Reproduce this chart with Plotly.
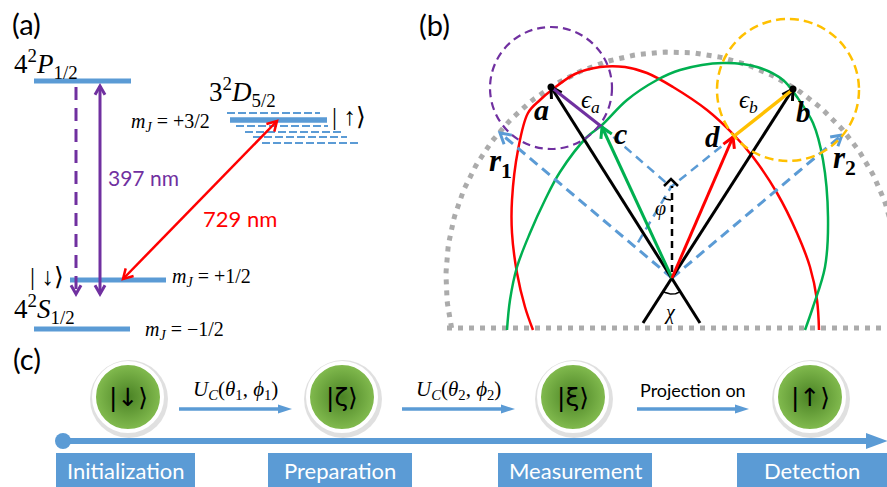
import math
import numpy as np
import plotly.graph_objects as go

W, H = 887, 487
BLUE = "#5B9BD5"
PURPLE = "#7030A0"
RED = "#FF0000"
GREEN = "#00B050"
YELLOW = "#FFC000"
GRAY = "#ABABAB"
MATH = "Liberation Serif"
SANS = "Lato"

# ---------------- Panel (a): energy levels ----------------
level_x0 = [34, 70, 34, 230]
level_x1 = [131, 166, 130, 327]
level_y = [81, 280, 329, 120]
sub_x0 = [227, 236, 245, 253, 262]
sub_x1 = [320, 328, 342, 347, 358]
sub_y = [113, 126, 132, 137, 143]

# transitions: (x0, y0, x1, y1)
decay_397 = (76, 87, 76, 294)
drive_397 = (100, 86, 100, 294)
drive_729 = (123, 279, 277, 121)

a_label_text = ["4<sup>2</sup><i>P</i><sub>1/2</sub>", "3<sup>2</sup><i>D</i><sub>5/2</sub>",
                "<i>m</i><sub><i>J</i></sub> = +3/2", "| ↑⟩", "| ↓⟩",
                "<i>m</i><sub><i>J</i></sub> = +1/2", "4<sup>2</sup><i>S</i><sub>1/2</sub>",
                "<i>m</i><sub><i>J</i></sub> = −1/2"]
a_label_x = [12, 207, 129, 330, 28, 170, 12, 143]
a_label_y = [64, 92, 122, 116, 276, 277, 309, 330]
a_label_size = [27, 27, 20, 25, 25, 20, 27, 20]

# ---------------- Panel (b): geometry ----------------
origin = (672, 278)
gray_r = 226
base_y = 328
pt_a = (551, 87)
pt_b = (793, 89)
pt_c = (602, 127)
pt_d = (733, 137)
pt_r1 = (500, 133)
pt_r2 = (842, 135)
pt_p = (671, 187)
pt_q = (637, 244)
line_a_end = (700, 323)
line_b_end = (643, 323)
circ_a = (551, 88, 61)
circ_b = (788, 90, 71)

red_x = [533, 525, 517, 512, 512, 518, 528, 540, 553, 575, 600, 625, 647, 673, 707, 733, 753, 777, 797, 810, 817, 819]
red_y = [330, 307, 273, 233, 200, 150, 113, 100, 89, 74, 67, 67, 73, 87, 110, 134, 157, 193, 233, 267, 300, 330]
green_x = [507, 510, 517, 530, 545, 560, 587, 602, 627, 657, 680, 723, 757, 783, 797, 813, 823, 828, 825, 813, 805]
green_y = [330, 300, 267, 233, 200, 172, 137, 125, 100, 80, 70, 63, 67, 80, 97, 123, 160, 217, 267, 307, 330]

# ---------------- Panel (c): timeline ----------------
state_x = [128, 342, 573, 810]
state_y = 397
state_text = ["|↓⟩", "|ζ⟩", "|ξ⟩", "|↑⟩"]
step_x0 = [179, 402, 637]
step_x1 = [292, 515, 749]
step_y = 409
step_text = ["<i>U</i><sub><i>C</i></sub>(<i>θ</i><sub>1</sub>, <i>ϕ</i><sub>1</sub>)",
             "<i>U</i><sub><i>C</i></sub>(<i>θ</i><sub>2</sub>, <i>ϕ</i><sub>2</sub>)",
             "Projection on"]
box_x0 = [56, 268, 498, 737]
box_x1 = [195, 412, 652, 889]
box_text = ["Initialization", "Preparation", "Measurement", "Detection"]
timeline = (63, 869, 441)

fig = go.Figure()


def line(xs, ys, color, width, dash=None, shape="linear"):
    fig.add_trace(go.Scatter(x=list(xs), y=list(ys), mode="lines",
                             line=dict(color=color, width=width, dash=dash, shape=shape),
                             hoverinfo="skip", showlegend=False))


def head(tail, tip, color, width, L=11, ang=30):
    dx, dy = tip[0] - tail[0], tip[1] - tail[1]
    n = math.hypot(dx, dy)
    ux, uy = -dx / n, -dy / n
    pts = []
    for s in (1, -1):
        a = math.radians(ang * s)
        rx = ux * math.cos(a) - uy * math.sin(a)
        ry = ux * math.sin(a) + uy * math.cos(a)
        pts.append((tip[0] + L * rx, tip[1] + L * ry))
    line([pts[0][0], tip[0], pts[1][0]], [pts[0][1], tip[1], pts[1][1]], color, width)


def arrow(p0, p1, color, width, dash=None, start=False, end=True, L=11):
    line([p0[0], p1[0]], [p0[1], p1[1]], color, width, dash)
    if end:
        head(p0, p1, color, width, L)
    if start:
        head(p1, p0, color, width, L)


def text(x, y, s, size, color="black", family=MATH, xanchor="center"):
    fig.add_annotation(x=x, y=y, text=s, showarrow=False, xref="x", yref="y",
                       xanchor=xanchor, yanchor="middle",
                       font=dict(size=size, color=color, family=family))


# ----- panel (a) -----
for x0, x1, y in zip(level_x0, level_x1, level_y):
    line([x0, x1], [y, y], BLUE, 5)
for x0, x1, y in zip(sub_x0, sub_x1, sub_y):
    line([x0, x1], [y, y], BLUE, 2.2, dash="8px,3px")
line([level_x0[3], level_x1[3]], [level_y[3], level_y[3]], BLUE, 5)

arrow(decay_397[:2], decay_397[2:], PURPLE, 3, dash="13px,8px", L=10)
arrow(drive_397[:2], drive_397[2:], PURPLE, 3, start=True, L=10)
arrow(drive_729[:2], drive_729[2:], RED, 2.5, start=True, L=11)

for s, x, y, sz in zip(a_label_text, a_label_x, a_label_y, a_label_size):
    text(x, y, s, sz, xanchor="left")
text(143, 177, "397 nm", 21, PURPLE, SANS)
text(240, 218, "729 nm", 22, RED, SANS)
text(26, 23, "(a)", 29, family=SANS)

# ----- panel (b) -----
t = np.linspace(math.pi + math.asin((base_y - origin[1]) / gray_r),
                -math.asin((base_y - origin[1]) / gray_r), 200)
line(origin[0] + gray_r * np.cos(t), origin[1] - gray_r * np.sin(t), GRAY, 5, dash="5px,6px")
line([447, 887], [base_y, base_y], GRAY, 5, dash="5px,6px")

line(red_x, red_y, RED, 2.5, shape="spline")
line(green_x, green_y, GREEN, 2.5, shape="spline")

fig.add_shape(type="circle", xref="x", yref="y", x0=circ_a[0] - circ_a[2], x1=circ_a[0] + circ_a[2],
              y0=circ_a[1] - circ_a[2], y1=circ_a[1] + circ_a[2],
              line=dict(color=PURPLE, width=2.2, dash="8px,5px"))
fig.add_shape(type="circle", xref="x", yref="y", x0=circ_b[0] - circ_b[2], x1=circ_b[0] + circ_b[2],
              y0=circ_b[1] - circ_b[2], y1=circ_b[1] + circ_b[2],
              line=dict(color=YELLOW, width=2.5, dash="9px,5px"))

# blue dashed construction lines
arrow(origin, pt_r1, BLUE, 3, dash="10px,6px", L=12)
arrow(origin, pt_r2, BLUE, 3, dash="10px,6px", L=12)
line([pt_c[0], pt_p[0]], [pt_c[1], pt_p[1]], BLUE, 2.5, dash="9px,6px")
line([pt_d[0], pt_p[0], pt_q[0]], [pt_d[1], pt_p[1], pt_q[1]], BLUE, 2.5, dash="9px,6px")

# black vectors
arrow(line_a_end, pt_a, "black", 3, L=12)
arrow(line_b_end, pt_b, "black", 3, L=12)
line([origin[0], origin[0]], [origin[1] - 6, 186], "black", 2.5, dash="7px,5px")
line([664, 671, 678], [186, 179, 186], "black", 2.5)

# small angle arcs
ang = np.linspace(math.radians(58), math.radians(122), 20)
line(origin[0] + 16 * np.cos(ang), origin[1] + 16 * np.sin(ang), "black", 1.5)
ang = np.linspace(math.radians(90), math.radians(125), 10)
line(pt_p[0] + 13 * np.cos(ang), pt_p[1] + 13 * np.sin(ang), "black", 1.5)

# coloured segments and arrows
line([pt_a[0], pt_c[0]], [pt_a[1], pt_c[1]], PURPLE, 3)
line([pt_d[0], pt_b[0] - 2], [pt_d[1], pt_b[1] + 2], YELLOW, 3.5)
arrow(origin, pt_c, GREEN, 3, L=12)
arrow(origin, pt_d, RED, 3, L=12)

fig.add_trace(go.Scatter(x=[pt_a[0], pt_b[0]], y=[pt_a[1], pt_b[1]], mode="markers",
                         marker=dict(color="black", size=7), hoverinfo="skip", showlegend=False))

text(434, 24, "(b)", 29, family=SANS)
text(541, 109, "<b><i>a</i></b>", 30)
text(620, 133, "<b><i>c</i></b>", 30)
text(712, 137, "<b><i>d</i></b>", 29)
text(803, 112, "<b><i>b</i></b>", 29)
text(590, 101, "<i>ϵ</i><sub><i>a</i></sub>", 25)
text(748, 101, "<i>ϵ</i><sub><i>b</i></sub>", 25)
text(500, 163, "<b><i>r</i></b><sub><b>1</b></sub>", 31)
text(844, 160, "<b><i>r</i></b><sub><b>2</b></sub>", 31)
text(660, 208, "<i>φ</i>", 20)
text(670, 312, "<i>χ</i>", 20)

# ----- panel (c) -----
text(27, 358, "(c)", 29, family=SANS)
fig.add_shape(type="line", xref="x", yref="y", x0=timeline[0], x1=timeline[1], y0=timeline[2], y1=timeline[2],
              line=dict(color=BLUE, width=6))
fig.add_shape(type="path", xref="x", yref="y",
              path=f"M {timeline[1] - 3} {timeline[2] - 8} L 888 {timeline[2]} L {timeline[1] - 3} {timeline[2] + 8} Z",
              fillcolor=BLUE, line=dict(width=0))
fig.add_shape(type="circle", xref="x", yref="y", x0=timeline[0] - 8, x1=timeline[0] + 8,
              y0=timeline[2] - 8, y1=timeline[2] + 8, fillcolor=BLUE, line=dict(width=0))

for x0, x1, s in zip(step_x0, step_x1, step_text):
    fig.add_shape(type="line", xref="x", yref="y", x0=x0, x1=x1 - 8, y0=step_y, y1=step_y,
                  line=dict(color=BLUE, width=3.5))
    fig.add_shape(type="path", xref="x", yref="y",
                  path=f"M {x1 - 14} {step_y - 4.5} L {x1} {step_y} L {x1 - 14} {step_y + 4.5} Z",
                  fillcolor=BLUE, line=dict(width=0))
    if s.startswith("Projection"):
        text((x0 + x1) / 2, 390, s, 18, family=SANS)
    else:
        text((x0 + x1) / 2, 390, s, 21)

fig.add_trace(go.Scatter(x=[sx + 1 for sx in state_x], y=[state_y + 2] * 4, mode="markers",
                         marker=dict(size=78, color="rgba(0,0,0,0.12)", line=dict(width=0)),
                         hoverinfo="skip", showlegend=False))
fig.add_trace(go.Scatter(x=state_x, y=[state_y] * 4, mode="markers",
                         marker=dict(size=68, color="#84BD50", line=dict(color="white", width=4),
                                     gradient=dict(type="radial", color="#4A8224")),
                         hoverinfo="skip", showlegend=False))
for sx, s in zip(state_x, state_text):
    text(sx, state_y, s, 25, family="DejaVu Sans")

for x0, x1, s in zip(box_x0, box_x1, box_text):
    fig.add_shape(type="rect", xref="x", yref="y", x0=x0, x1=x1, y0=453, y1=490,
                  fillcolor=BLUE, line=dict(width=0))
    text((x0 + min(x1, 887)) / 2, 470, s, 22, "white", SANS)

fig.update_layout(
    width=W, height=H, margin=dict(l=0, r=0, t=0, b=0),
    paper_bgcolor="white", plot_bgcolor="white",
    xaxis=dict(range=[0, W], visible=False, fixedrange=True),
    yaxis=dict(range=[H, 0], visible=False, fixedrange=True),
    showlegend=False,
)
fig.write_html("out.html", config={"displayModeBar": False},
               post_script="document.body.style.margin='0';document.body.style.overflow='hidden';")
